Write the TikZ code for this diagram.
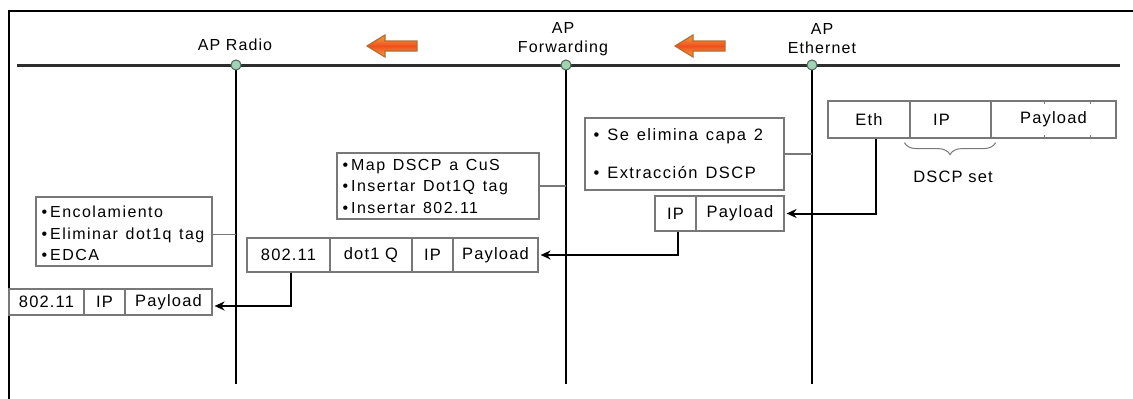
\documentclass[tikz,border=0pt]{standalone}
\usepackage{fontspec}
\setmainfont{Liberation Sans}
\newfontfamily\listfont{Liberation Sans}[LetterSpace=9,WordSpace=1.3]
\newfontfamily\cellfont{Liberation Sans}[LetterSpace=7]
\usetikzlibrary{arrows.meta,decorations.pathreplacing}

\definecolor{busgray}{RGB}{45,45,45}
\definecolor{boxgray}{RGB}{120,120,120}
\definecolor{dotfill}{RGB}{160,210,180}
\definecolor{dotedge}{RGB}{80,100,90}
\definecolor{arrowhi}{RGB}{246,160,60}
\definecolor{arrowmid}{RGB}{240,80,30}
\definecolor{arrowedge}{RGB}{180,110,50}

\newcommand{\itm}{\textbullet\hspace{3pt}}

\tikzset{
  bus/.style={line width=3pt, draw=busgray},
  layerline/.style={line width=2.6pt, draw=black},
  station/.style={circle, draw=dotedge, fill=dotfill, line width=0.9pt, minimum size=10pt, inner sep=0pt},
  headlabel/.style={font=\cellfont\fontsize{16}{19}\selectfont, align=center, inner sep=0pt},
  listbox/.style={draw=boxgray, line width=1.2pt, inner sep=0pt},
  listtext/.style={align=left, inner sep=0pt, anchor=west,
                   font=\listfont\fontsize{16}{21.5}\selectfont},
  cell/.style={draw=boxgray, line width=1.2pt, inner sep=0pt,
               font=\cellfont\fontsize{16.5}{18}\selectfont},
  tap/.style={draw=boxgray, line width=1.2pt},
  flow/.style={draw=black, line width=2pt, -{Stealth[length=10pt,width=9pt]}, shorten >=2pt},
  blockarrow/.style={draw=arrowedge, line width=1.2pt, top color=arrowhi, bottom color=arrowhi, middle color=arrowmid},
  tick/.style={draw=boxgray, line width=1pt}
}

\begin{document}
\begin{tikzpicture}[x=1pt, y=-1pt]
\useasboundingbox (0,0) rectangle (1133,399);

% frame
\draw[line width=2.5pt] (9,402) -- (9,11) -- (1136,11);

% main bus
\draw[bus] (17,65) -- (1120,65);

% layer stations
\coordinate (radioend) at (236,384);
\coordinate (fwdend) at (566,384);
\coordinate (ethend) at (812,384);
\node[station] (radio) at (236,65) {};
\node[station] (fwd) at (566,65) {};
\node[station] (eth) at (812,65) {};
\draw[layerline] (radio.center) -- (radioend);
\draw[layerline] (fwd.center) -- (fwdend);
\draw[layerline] (eth.center) -- (ethend);
\node[station] at (radio) {};
\node[station] at (fwd) {};
\node[station] at (eth) {};

% headings
\node[headlabel] (lradio) at (235,45) {AP Radio};
\node[headlabel] (lfwd) at (563,39) {AP\\Forwarding};
\node[headlabel] (leth) at (822,39) {AP\\Ethernet};

% direction arrows
\path[blockarrow] (417,41) -- (385,41) -- (385,35) -- (367,46) -- (385,57) -- (385,51) -- (417,51) -- cycle;
\path[blockarrow] (725,41) -- (693,41) -- (693,35) -- (675,46) -- (693,57) -- (693,51) -- (725,51) -- cycle;

% processing boxes
\node[listbox, minimum width=176pt, minimum height=69pt] (queue) at (124,231.5) {};
\node[listtext] (queuetext) at ([xshift=6pt,yshift=-2pt]queue.west)
  {\itm Encolamiento\\\itm Eliminar dot1q tag\\\itm EDCA};
\node[listbox, minimum width=202pt, minimum height=66pt] (mapbox) at (438,186) {};
\node[listtext] (maptext) at ([xshift=6pt]mapbox.west)
  {\itm Map DSCP a CuS\\\itm Insertar Dot1Q tag\\\itm Insertar 802.11};
\node[listbox, minimum width=199pt, minimum height=72pt] (strip) at (684.5,154) {};
\node[listtext, font=\listfont\fontsize{16.5}{38}\selectfont] (striptext) at ([xshift=9pt]strip.west)
  {\textbullet\ Se elimina capa 2\\\textbullet\ Extracción DSCP};

\draw[tap] ([yshift=-3pt]queue.east) -- ([yshift=-3pt]queue.east -| radio);
\draw[tap] (mapbox.east) -- (mapbox.east -| fwd);
\draw[tap] (strip.east) -- (strip.east -| eth);

% Ethernet frame
\node[cell, minimum width=82pt, minimum height=37pt] (ethhdr) at (869,119.5) {Eth};
\node[cell, minimum width=81pt, minimum height=37pt] (ethip) at (950.5,119.5) {\hspace*{-18pt}IP};
\node[cell, minimum width=125pt, minimum height=37pt] (ethpay) at (1053.5,119.5) {Payload};
\draw[tick] (1044,101) -- (1044,104);
\draw[tick] (1090,101) -- (1090,104);
\draw[tick] (1044,138) -- (1044,135);
\draw[tick] (1090,138) -- (1090,135);
\draw[draw=boxgray, line width=1pt, decorate, decoration={brace, mirror, amplitude=12pt}]
  ([xshift=-5pt,yshift=-4pt]ethip.south west) -- ([xshift=4pt,yshift=-4pt]ethip.south east);
\node[font=\cellfont\fontsize{16.5}{18}\selectfont] (dscp) at (953,177) {DSCP set};

% stripped packet
\node[cell, minimum width=41pt, minimum height=35pt] (ipA) at (675.5,213.5) {IP};
\node[cell, minimum width=88pt, minimum height=35pt] (payA) at (740,213.5) {Payload};

% tagged packet
\node[cell, minimum width=83pt, minimum height=34pt] (dotB) at (288.5,255) {802.11};
\node[cell, minimum width=82pt, minimum height=34pt] (qB) at (371,255) {dot1 Q};
\node[cell, minimum width=41pt, minimum height=34pt] (ipB) at (432.5,255) {IP};
\node[cell, minimum width=85pt, minimum height=34pt] (payB) at (495.5,255) {Payload};

% radio packet
\node[cell, minimum width=75pt, minimum height=26pt] (dotC) at (46.5,302) {802.11};
\node[cell, minimum width=41pt, minimum height=26pt] (ipC) at (104.5,302) {IP};
\node[cell, minimum width=87pt, minimum height=26pt] (payC) at (168.5,302) {Payload};

% packet flow
\draw[flow] ([xshift=7pt]ethhdr.south) |- (payA.east);
\draw[flow] ([xshift=2.5pt]ipA.south) |- (payB.east);
\draw[flow] ([xshift=2.5pt]dotB.south) |- ([yshift=-4pt]payC.east);
\end{tikzpicture}
\end{document}
